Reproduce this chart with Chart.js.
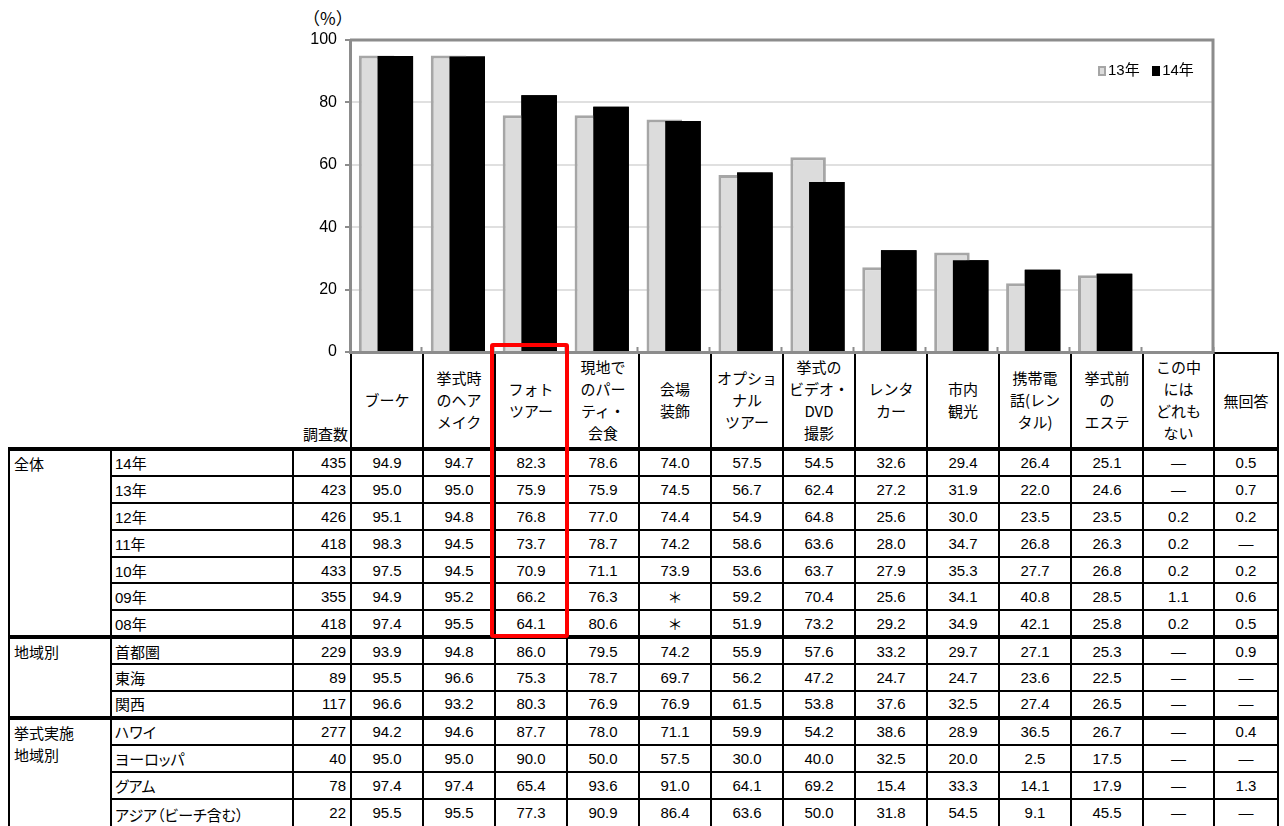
<!DOCTYPE html>
<html><head><meta charset="utf-8">
<script src="https://cdn.jsdelivr.net/npm/chart.js@4.4.1/dist/chart.umd.min.js"></script>
<style>
html,body{margin:0;padding:0;background:#fff;}
#wrap{position:relative;width:1284px;height:826px;overflow:hidden;font-family:"Liberation Sans","Noto Sans CJK JP",sans-serif;color:#000;}
#c{position:absolute;left:0;top:0;z-index:2;pointer-events:none;}
#pct{position:absolute;left:303px;top:5px;font-size:17px;font-family:"Noto Sans CJK JP",sans-serif;}
#legend{position:absolute;left:1098px;top:58px;font-size:15px;z-index:3;font-family:"Liberation Sans","Noto Sans CJK JP",sans-serif;white-space:nowrap;}
#legend .box{display:inline-block;width:8px;height:10px;vertical-align:-1px;margin-right:2px;box-sizing:border-box;}
#tbl{position:absolute;left:8px;top:352px;border-collapse:collapse;table-layout:fixed;width:1269px;font-size:15px;z-index:1;}
#tbl td{padding:0;overflow:hidden;white-space:nowrap;}
#tbl tr.hd{height:96px;}
#tbl tr.hd td{font-family:"Noto Sans CJK JP",sans-serif;font-size:15px;line-height:22px;white-space:pre-line;text-align:center;vertical-align:middle;}
#tbl tr.hd td.hc{border-left:2px solid #000;border-right:2px solid #000;}
#tbl tr.hd td.last{border-top:2px solid #000;}
#tbl tr.hd td.nh{vertical-align:bottom;text-align:right;padding-right:2px;padding-bottom:2px;}
#tbl tr.br{height:26.9px;}
#tbl tr.br td{border:2px solid #000;vertical-align:middle;text-align:center;}
#tbl tr.br.end td{vertical-align:top;padding-top:4px;}
#tbl tr.br.end{height:34px;}
#tbl tr.br td.g{vertical-align:top;text-align:left;padding:2px 4px;font-family:"Noto Sans CJK JP",sans-serif;white-space:pre-line;line-height:22px;}
#tbl tr.br td.r{text-align:left;padding-left:3px;font-family:"Liberation Sans","Noto Sans CJK JP",sans-serif;font-feature-settings:"palt";}
#tbl tr.br td.n{text-align:right;padding-right:4px;}
#tbl tr.first td{border-top:4px solid #000;}
#red{position:absolute;left:490px;top:343px;width:79px;height:295px;box-sizing:border-box;border:4px solid #ff0000;border-radius:3px;z-index:4;}
</style></head>
<body><div id="wrap">
<canvas id="c" width="1284" height="372"></canvas>
<div id="pct">（%）</div>
<div id="legend"><span class="box" style="background:#dcdcdc;border:2px solid #a6a6a6"></span>13年&nbsp;&nbsp;&nbsp;<span class="box" style="background:#000"></span>14年</div>
<table id="tbl"><colgroup id="cg"></colgroup><tbody id="tb"></tbody></table>
<div id="red"></div>
</div>
<script>
// ---- chart data ----
const categories = ['ブーケ','挙式時のヘアメイク','フォトツアー','現地でのパーティ・会食','会場装飾','オプショナルツアー','挙式のビデオ・DVD撮影','レンタカー','市内観光','携帯電話(レンタル)','挙式前のエステ','この中にはどれもない'];
const series13 = [95.0, 95.0, 75.9, 75.9, 74.5, 56.7, 62.4, 27.2, 31.9, 22.0, 24.6, null];
const series14 = [94.9, 94.7, 82.3, 78.6, 74.0, 57.5, 54.5, 32.6, 29.4, 26.4, 25.1, null];
const seriesNames = ['13年','14年'];
const yTicks = [0,20,40,60,80,100];

// ---- table data ----
const headerLabels = ['ブーケ','挙式時\nのヘア\nメイク','フォト\nツアー','現地で\nのパー\nティ・\n会食','会場\n装飾','オプショ\nナル\nツアー','挙式の\nビデオ・\nDVD\n撮影','レンタ\nカー','市内\n観光','携帯電\n話(レン\nタル)','挙式前\nの\nエステ','この中\nには\nどれも\nない','無回答'];
const groupLabels = ['全体','地域別','挙式実施\n地域別'];
const groupSizes = [7,3,4];
const rowLabels = ['14年','13年','12年','11年','10年','09年','08年','首都圏','東海','関西','ハワイ','ヨーロッパ','グアム','アジア（ビーチ含む）'];
const sampleSizes = [435,423,426,418,433,355,418,229,89,117,277,40,78,22];
const tableValues = [
 ['94.9','94.7','82.3','78.6','74.0','57.5','54.5','32.6','29.4','26.4','25.1','—','0.5'],
 ['95.0','95.0','75.9','75.9','74.5','56.7','62.4','27.2','31.9','22.0','24.6','—','0.7'],
 ['95.1','94.8','76.8','77.0','74.4','54.9','64.8','25.6','30.0','23.5','23.5','0.2','0.2'],
 ['98.3','94.5','73.7','78.7','74.2','58.6','63.6','28.0','34.7','26.8','26.3','0.2','—'],
 ['97.5','94.5','70.9','71.1','73.9','53.6','63.7','27.9','35.3','27.7','26.8','0.2','0.2'],
 ['94.9','95.2','66.2','76.3','＊','59.2','70.4','25.6','34.1','40.8','28.5','1.1','0.6'],
 ['97.4','95.5','64.1','80.6','＊','51.9','73.2','29.2','34.9','42.1','25.8','0.2','0.5'],
 ['93.9','94.8','86.0','79.5','74.2','55.9','57.6','33.2','29.7','27.1','25.3','—','0.9'],
 ['95.5','96.6','75.3','78.7','69.7','56.2','47.2','24.7','24.7','23.6','22.5','—','—'],
 ['96.6','93.2','80.3','76.9','76.9','61.5','53.8','37.6','32.5','27.4','26.5','—','—'],
 ['94.2','94.6','87.7','78.0','71.1','59.9','54.2','38.6','28.9','36.5','26.7','—','0.4'],
 ['95.0','95.0','90.0','50.0','57.5','30.0','40.0','32.5','20.0','2.5','17.5','—','—'],
 ['97.4','97.4','65.4','93.6','91.0','64.1','69.2','15.4','33.3','14.1','17.9','—','1.3'],
 ['95.5','95.5','77.3','90.9','86.4','63.6','50.0','31.8','54.5','9.1','45.5','—','—']
];

// ---- build table ----
const colWidths = [102,182,58,72,72,72,72,72,72,72,72,72,72,72,71,64];
const cg = document.getElementById('cg');
colWidths.forEach(w=>{const c=document.createElement('col');c.style.width=w+'px';cg.appendChild(c);});
const tb = document.getElementById('tb');
function esc(s){return String(s).replace(/&/g,'&amp;').replace(/</g,'&lt;');}
let html = '<tr class="hd"><td></td><td></td><td class="nh">調査数</td>';
headerLabels.forEach((l,i)=>{html += '<td class="hc'+(i===headerLabels.length-1?' last':'')+'">'+esc(l)+'</td>';});
html += '</tr>';
let ri = 0;
groupSizes.forEach((gs,gi)=>{
  for(let k=0;k<gs;k++){
    const isEnd = ri === rowLabels.length-1;
    html += '<tr class="br'+(k===0?' first':'')+(isEnd?' end':'')+'">';
    if(k===0) html += '<td class="g" rowspan="'+gs+'">'+esc(groupLabels[gi])+'</td>';
    html += '<td class="r">'+esc(rowLabels[ri])+'</td><td class="n">'+sampleSizes[ri]+'</td>';
    tableValues[ri].forEach(v=>{html += '<td>'+esc(v)+'</td>';});
    html += '</tr>';
    ri++;
  }
});
tb.innerHTML = html;

// ---- chart ----
const framePlugin = {id:'frame', beforeDatasetsDraw(chart){
  const {ctx, chartArea:a} = chart;
  ctx.save(); ctx.strokeStyle='#8c8c8c'; ctx.lineWidth=3;
  ctx.beginPath(); ctx.moveTo(a.left,a.top); ctx.lineTo(a.right,a.top); ctx.lineTo(a.right,a.bottom); ctx.stroke();
  ctx.restore();
}};
const frontPlugin = {id:'front', afterDatasetsDraw(chart){
  const meta = chart.getDatasetMeta(1);
  if(!meta.hidden) meta.controller.draw();
}};
new Chart(document.getElementById('c'), {
  type:'bar',
  data:{labels:categories, datasets:[
    {label:seriesNames[0], data:series13, backgroundColor:'#dcdcdc', borderColor:'#a6a6a6', borderWidth:3},
    {label:seriesNames[1], data:series14, backgroundColor:'#000000', borderWidth:0}
  ]},
  options:{
    responsive:false, animation:false, devicePixelRatio:1,
    layout:{padding:{left:300,right:71,top:40,bottom:20}},
    datasets:{bar:{categoryPercentage:0.52, barPercentage:1.9}},
    plugins:{legend:{display:false}, tooltip:{enabled:false}},
    scales:{
      x:{grid:{display:true, offset:true, drawOnChartArea:false, tickLength:-5, tickColor:'#8c8c8c', tickWidth:2},
         ticks:{display:false}, border:{display:true,color:'#8c8c8c',width:3}, afterFit(s){s.height=0;}},
      y:{min:0,max:100, afterBuildTicks(s){s.ticks = yTicks.map(v=>({value:v}));},
         ticks:{color:'#000', font:{family:'"Liberation Sans", Arial, sans-serif', size:16}, padding:8},
         grid:{color:'#e0e0e0', lineWidth:2, tickLength:5, tickColor:'#8c8c8c', tickWidth:2},
         border:{display:true,color:'#8c8c8c',width:3},
         afterFit(s){s.width=50;}}
    }
  },
  plugins:[framePlugin, frontPlugin]
});
</script>
</body></html>
